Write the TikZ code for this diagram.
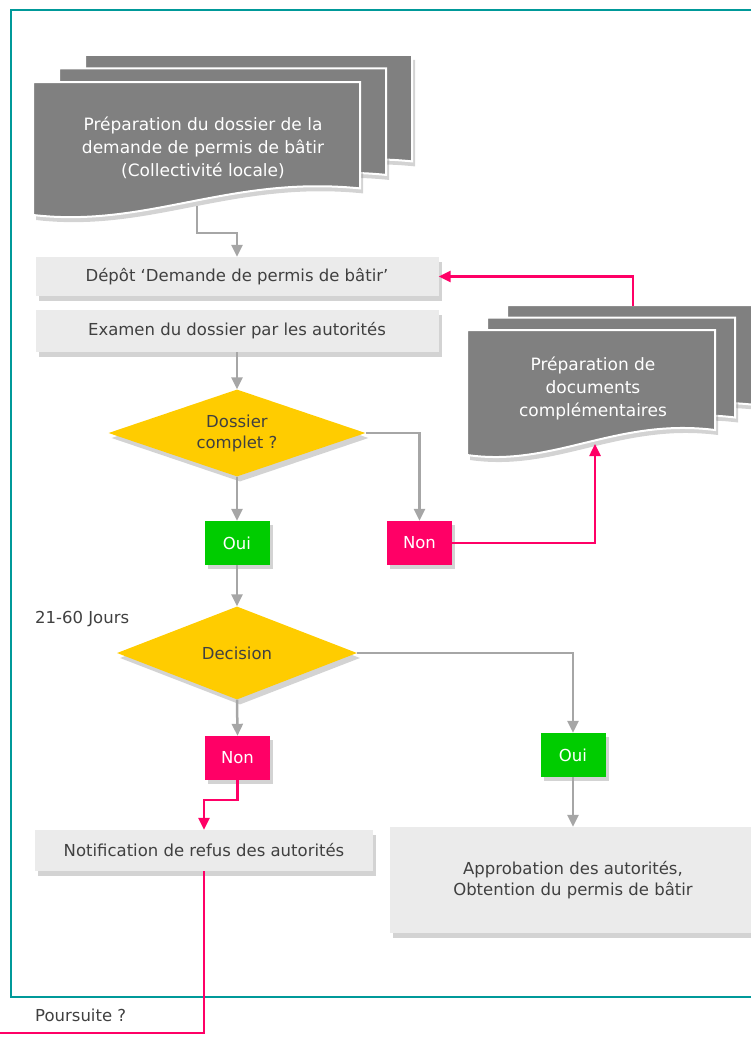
\documentclass[tikz,border=0pt]{standalone}
\usepackage{fontspec}
\setmainfont{DejaVu Sans}
\usepackage{tikz}
\usetikzlibrary{positioning, arrows.meta, shapes.geometric, shadows, calc}
\definecolor{frameteal}{RGB}{0,153,153}
\definecolor{boxgray}{RGB}{235,235,235}
\definecolor{docgray}{RGB}{128,128,128}
\definecolor{txtgray}{RGB}{64,64,64}
\definecolor{linegray}{RGB}{166,166,166}
\definecolor{decyellow}{RGB}{255,204,0}
\definecolor{okgreen}{RGB}{0,204,0}
\definecolor{nopink}{RGB}{255,0,102}
% one page of a document stack: x, y, width, height
\newcommand{\docpage}[4]{\path[docpage] (#1,#2) -- ({#1+#3},#2) -- ({#1+#3},{#2+0.8*#4})
  .. controls ({#1+0.6*#3},{#2+0.7*#4}) and ({#1+0.35*#3},{#2+1.1*#4}) .. (#1,{#2+#4}) -- cycle;}
\newcommand{\docstack}[6]{\foreach \k in {2,1,0} {\docpage{#1+\k*#5}{#2-\k*#6}{#3}{#4}}}

\begin{document}
\begin{tikzpicture}[x=1pt, y=-1pt,
  docpage/.style={fill=docgray, draw=white, line width=2pt, drop shadow={shadow xshift=3pt, shadow yshift=-5pt, opacity=0.35}},
  doctext/.style={text=white, align=center, font=\fontsize{17}{23}\selectfont},
  procbox/.style={fill=boxgray, text=txtgray, align=center, inner sep=0pt, font=\fontsize{16.5}{21}\selectfont, drop shadow={shadow xshift=3pt, shadow yshift=-5pt, opacity=0.35}},
  choice/.style={diamond, aspect=2.8, fill=decyellow, text=txtgray, align=center, inner sep=0pt, font=\fontsize{16.5}{21}\selectfont, drop shadow={shadow xshift=3pt, shadow yshift=-5pt, opacity=0.35}},
  answer/.style={minimum width=65pt, minimum height=44pt, inner sep=0pt, text=white, font=\fontsize{16.5}{21}\selectfont, drop shadow={shadow xshift=3pt, shadow yshift=-4pt, opacity=0.35}},
  grayline/.style={draw=linegray, line width=2.5pt, -{Triangle[width=11pt, length=12pt]}},
  pinkline/.style={draw=nopink, line width=2.5pt, -{Triangle[width=11pt, length=12pt]}},
  note/.style={anchor=west, text=txtgray, inner sep=0pt, font=\fontsize{16.5}{21}\selectfont}]
  \clip (0,0) rectangle (751,1041);
  \draw[frameteal, line width=2.5pt] (11,10) rectangle (770,997);

  % document stacks
  \docstack{33}{82}{327}{133}{26}{13.5}
  \node[doctext] (prep) at (203,148) {Préparation du dossier de la\\demande de permis de bâtir\\(Collectivité locale)};
  \docstack{467}{330}{248}{125}{20}{12.5}
  \node[doctext] (prepdoc) at (593,388) {Préparation de\\documents\\complémentaires};
  \coordinate (prepout) at (197,206);
  \coordinate (docin) at (595,444);
  \coordinate (docout) at (633,306);

  % steps
  \node[procbox, minimum width=403pt, minimum height=39pt] (depot) at (237,276.5) {Dépôt ‘Demande de permis de bâtir’};
  \node[procbox, minimum width=403pt, minimum height=42pt] (examen) at (237,331) {Examen du dossier par les autorités};
  \node[choice, minimum width=257pt, minimum height=87pt] (complet) at (237,433) {Dossier\\complet ?};
  \node[answer, fill=okgreen] (oui1) at (237,543) {Oui};
  \node[answer, fill=nopink] (non1) at (419.5,543) {Non};
  \node[choice, minimum width=240pt, minimum height=93pt] (decision) at (237,653) {Decision};
  \node[note] (jours) at (35,619) {21-60 Jours};
  \node[answer, fill=nopink] (non2) at (237.5,758) {Non};
  \node[answer, fill=okgreen] (oui2) at (573,755) {Oui};
  \node[procbox, minimum width=338pt, minimum height=41pt] (notif) at (204,850.5) {Notification de refus des autorités};
  \node[procbox, minimum width=366pt, minimum height=106pt] (approb) at (573,880) {Approbation des autorités,\\Obtention du permis de bâtir};
  \node[note] (poursuite) at (35,1015) {Poursuite ?};
  \coordinate (sortie) at (-2,1033);

  % connectors
  \draw[grayline] (prepout) -- ++(0,27) -| (depot.north);
  \draw[grayline] (examen.south) -- (complet.north);
  \draw[grayline] (complet.south) -- (oui1.north);
  \draw[grayline] (complet.east) -| (non1.north);
  \draw[pinkline] (non1.east) -| (docin);
  \draw[pinkline] (docout) |- (depot.east);
  \draw[grayline] (oui1.south) -- (decision.north);
  \draw[grayline] (decision.south) -- (non2.north);
  \draw[grayline] (decision.east) -| (oui2.north);
  \draw[grayline] (oui2.south) -- (approb.north);
  \draw[pinkline] (non2.south) -- ++(0,20) -| (notif.north);
  \draw[nopink, line width=2.5pt] (notif.south) |- (sortie);
\end{tikzpicture}
\end{document}
